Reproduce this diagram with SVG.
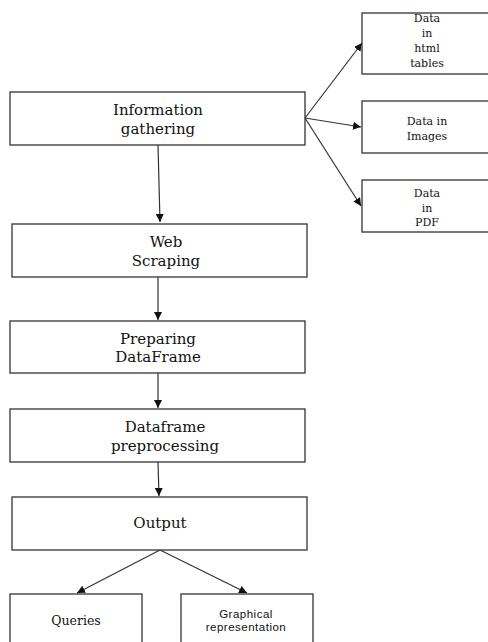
<svg xmlns="http://www.w3.org/2000/svg" width="488" height="642" viewBox="0 0 488 642">
<style>
.box{fill:#fff;stroke:#333;stroke-width:1.3}
.t{font-family:"DejaVu Serif","Liberation Serif",serif;font-size:15px;fill:#111;text-anchor:middle}
.s{font-family:"DejaVu Serif","Liberation Serif",serif;font-size:11px;fill:#111;text-anchor:middle}
.g{font-family:"Liberation Sans",Arial,sans-serif;font-size:11.5px;letter-spacing:0.5px;fill:#111;text-anchor:middle}
.c{stroke:#333;stroke-width:1.2;fill:none;marker-end:url(#ah)}
</style>
<defs>
<marker id="ah" viewBox="0 0 10 10" refX="10" refY="5" markerWidth="8" markerHeight="8" markerUnits="userSpaceOnUse" orient="auto">
<path d="M0,0 L10,5 L0,10 z" fill="#111"/>
</marker>
</defs>
<rect width="488" height="642" fill="#fff"/>
<g id="connectors">
<line class="c" x1="158" y1="145" x2="160" y2="222"/>
<line class="c" x1="305" y1="118" x2="362" y2="43"/>
<line class="c" x1="305" y1="118" x2="361" y2="127"/>
<line class="c" x1="305" y1="118" x2="361" y2="206"/>
<line class="c" x1="158" y1="277" x2="158" y2="320"/>
<line class="c" x1="158" y1="373" x2="158" y2="408"/>
<line class="c" x1="158" y1="462" x2="159" y2="496"/>
<line class="c" x1="160" y1="550" x2="77" y2="593"/>
<line class="c" x1="160" y1="550" x2="247" y2="593"/>
</g>
<g id="info">
<rect class="box" x="10" y="92" width="295" height="53"/>
<text class="t" x="158" y="115">Information</text>
<text class="t" x="158" y="134">gathering</text>
</g>
<g id="html">
<rect class="box" x="362" y="13" width="130" height="61"/>
<text class="s" x="427" y="22">Data</text>
<text class="s" x="427" y="37">in</text>
<text class="s" x="427" y="52">html</text>
<text class="s" x="427" y="67">tables</text>
</g>
<g id="images">
<rect class="box" x="362" y="101" width="130" height="52"/>
<text class="s" x="427" y="125">Data in</text>
<text class="s" x="427" y="140">Images</text>
</g>
<g id="pdf">
<rect class="box" x="362" y="180" width="130" height="52"/>
<text class="s" x="427" y="197">Data</text>
<text class="s" x="427" y="212">in</text>
<text class="s" x="427" y="226">PDF</text>
</g>
<g id="web">
<rect class="box" x="12" y="224" width="295" height="53"/>
<text class="t" x="166" y="247">Web</text>
<text class="t" x="166" y="266">Scraping</text>
</g>
<g id="prep">
<rect class="box" x="10" y="321" width="295" height="52"/>
<text class="t" x="158" y="344">Preparing</text>
<text class="t" x="158" y="362">DataFrame</text>
</g>
<g id="preproc">
<rect class="box" x="10" y="409" width="295" height="53"/>
<text class="t" x="165" y="432">Dataframe</text>
<text class="t" x="165" y="451">preprocessing</text>
</g>
<g id="output">
<rect class="box" x="12" y="497" width="295" height="53"/>
<text class="t" x="160" y="528">Output</text>
</g>
<g id="queries">
<rect class="box" x="10" y="594" width="132" height="52"/>
<text class="s" x="76" y="625" style="font-size:12.5px">Queries</text>
</g>
<g id="graph">
<rect class="box" x="181" y="594" width="132" height="52"/>
<text class="g" x="246" y="618">Graphical</text>
<text class="g" x="246" y="631">representation</text>
</g>
</svg>
